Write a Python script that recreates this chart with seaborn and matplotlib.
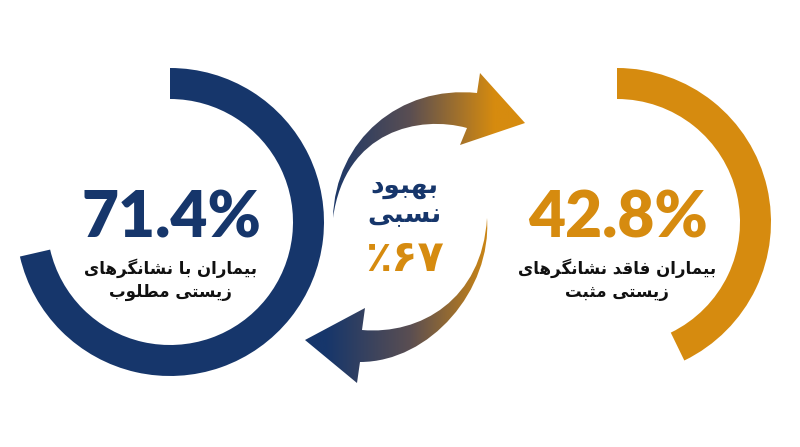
import numpy as np
import seaborn as sns
import matplotlib.pyplot as plt
from matplotlib.path import Path
from matplotlib.patches import PathPatch

# values
ring_labels = ['71.4%', '42.8%']
ring_values = [71.4, 42.8]
left_label = ['بیماران با نشانگرهای', 'زیستی مطلوب']
right_label = ['بیماران فاقد نشانگرهای', 'زیستی مثبت']
center_label = ['بهبود', 'نسبی']
improvement = 67

navy = '#16366b'
gold = '#d68b0f'

W, H = 800, 447

# minimal persian shaping (presentation forms + right-to-left order)
FORMS = {
    'ا': ('\uFE8D', '\uFE8E', None, None),
    'ب': ('\uFE8F', '\uFE90', '\uFE91', '\uFE92'),
    'ت': ('\uFE95', '\uFE96', '\uFE97', '\uFE98'),
    'ث': ('\uFE99', '\uFE9A', '\uFE9B', '\uFE9C'),
    'د': ('\uFEA9', '\uFEAA', None, None),
    'ر': ('\uFEAD', '\uFEAE', None, None),
    'ز': ('\uFEAF', '\uFEB0', None, None),
    'س': ('\uFEB1', '\uFEB2', '\uFEB3', '\uFEB4'),
    'ش': ('\uFEB5', '\uFEB6', '\uFEB7', '\uFEB8'),
    'ط': ('\uFEC1', '\uFEC2', '\uFEC3', '\uFEC4'),
    'ف': ('\uFED1', '\uFED2', '\uFED3', '\uFED4'),
    'ق': ('\uFED5', '\uFED6', '\uFED7', '\uFED8'),
    'ل': ('\uFEDD', '\uFEDE', '\uFEDF', '\uFEE0'),
    'م': ('\uFEE1', '\uFEE2', '\uFEE3', '\uFEE4'),
    'ن': ('\uFEE5', '\uFEE6', '\uFEE7', '\uFEE8'),
    'ه': ('\uFEE9', '\uFEEA', '\uFEEB', '\uFEEC'),
    'و': ('\uFEED', '\uFEEE', None, None),
    'ی': ('\uFBFC', '\uFBFD', '\uFBFE', '\uFBFF'),
    'گ': ('\uFB92', '\uFB93', '\uFB94', '\uFB95'),
}


def shape_fa(text):
    out = []
    for i, ch in enumerate(text):
        if ch not in FORMS:
            out.append(ch)
            continue
        iso, fin, ini, med = FORMS[ch]
        prev = text[i - 1] if i > 0 else ''
        nxt = text[i + 1] if i + 1 < len(text) else ''
        join_prev = prev in FORMS and FORMS[prev][2] is not None
        join_next = ini is not None and nxt in FORMS
        if join_prev and join_next:
            out.append(med)
        elif join_prev:
            out.append(fin)
        elif join_next:
            out.append(ini)
        else:
            out.append(iso)
    return ''.join(reversed(out))


def fa_digits(n):
    return ''.join(chr(0x06F0 + int(d)) for d in str(n))


sns.set_theme(style='white')
plt.rcParams['font.family'] = ['Lato', 'DejaVu Sans']

fig = plt.figure(figsize=(W / 100, H / 100), dpi=100)
ax = fig.add_axes([0, 0, 1, 1])

# rings (pixel coords, y measured from the top)
centers = [(170, 222), (617, 222)]
colors = [navy, gold]
for (cx, cy), val, col in zip(centers, ring_values, colors):
    ax.pie([val, 100 - val], colors=[col, 'none'], startangle=90,
           counterclock=False, radius=154, center=(cx, H - cy),
           wedgeprops=dict(width=31, linewidth=0), frame=True)

# gradient arrows
cmap = sns.blend_palette([navy, '#5a4e52', gold], n_colors=256, as_cmap=True)


def to_xy(pts):
    return [(x, H - y) for x, y in pts]


arrow_codes = [Path.MOVETO, Path.CURVE4, Path.CURVE4, Path.CURVE4,
               Path.LINETO, Path.LINETO, Path.LINETO, Path.LINETO,
               Path.CURVE4, Path.CURVE4, Path.CURVE4]
top_pts = [(333, 218), (335, 140), (400, 85), (477, 93),
           (480, 73), (525, 123), (460, 145), (467, 128),
           (420, 115), (345, 130), (333, 218)]
bot_pts = [(487, 218), (492, 290), (430, 362), (360, 362),
           (357, 383), (305, 340), (365, 308), (362, 330),
           (420, 335), (482, 300), (487, 218)]

grad = np.clip((np.linspace(295, 530, 300) - 325) / 170, 0, 1)[None, :]
for pts in [top_pts, bot_pts]:
    patch = PathPatch(Path(to_xy(pts), arrow_codes), facecolor='none',
                      edgecolor='none')
    ax.add_patch(patch)
    im = ax.imshow(grad, cmap=cmap, extent=(295, 530, H - 390, H - 65),
                   aspect='auto', interpolation='bilinear', zorder=1)
    im.set_clip_path(patch)

# big numbers
for (cx, cy), lab, col in zip(centers, ring_labels, colors):
    ax.text(cx + 1, H - 237, lab, ha='center', va='baseline', color=col,
            fontsize=46, fontweight='heavy')

fa_font = ['DejaVu Sans']
for (cx, cy), lines in zip(centers, [left_label, right_label]):
    for k, line in enumerate(lines):
        ax.text(cx, H - (268 + 24 * k), shape_fa(line), ha='center',
                va='center', color='#111111', fontsize=12,
                fontweight='bold', family=fa_font)

for k, line in enumerate(center_label):
    ax.text(404, H - (186 + 29 * k), shape_fa(line), ha='center',
            va='center', color=navy, fontsize=19, fontweight='bold',
            family=fa_font)
ax.text(405, H - 259, '\u066A' + fa_digits(improvement), ha='center',
        va='center', color=gold, fontsize=31, fontweight='bold',
        family=fa_font)

ax.set_xlim(0, W)
ax.set_ylim(0, H)
ax.set_aspect('equal')
ax.axis('off')

fig.savefig('out.png', dpi=100, facecolor='white')
